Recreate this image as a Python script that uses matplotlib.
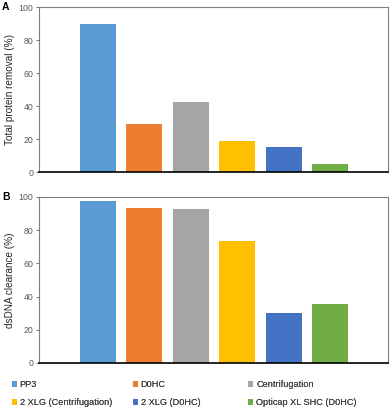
import matplotlib.pyplot as plt
import numpy as np

plt.rcParams['font.family'] = ['Liberation Sans', 'DejaVu Sans']

# data
categories = ['PP3', 'D0HC', 'Centrifugation', '2 XLG (Centrifugation)',
              '2 XLG (D0HC)', 'Opticap XL SHC (D0HC)']
protein_removal = [89.7, 28.9, 42.4, 18.8, 15.0, 4.8]
dsdna_clearance = [97.4, 93.2, 92.6, 73.3, 29.9, 35.4]
colors = ['#5B9BD5', '#ED7D31', '#A5A5A5', '#FFC000', '#4472C4', '#70AD47']
yticks = [0, 20, 40, 60, 80, 100]

fig = plt.figure(figsize=(3.91, 4.12), dpi=100)
axA = fig.add_axes([0.0997, 0.5825, 0.893, 0.4005])
axB = fig.add_axes([0.0997, 0.119, 0.893, 0.403])

x = np.arange(len(categories))
bars = None
for ax, vals, lab, letter in [(axA, protein_removal, 'Total protein removal (%)', 'A'),
                              (axB, dsdna_clearance, 'dsDNA clearance (%)', 'B')]:
    b = ax.bar(x, vals, width=0.78, color=colors)
    if bars is None:
        bars = b
    ax.set_xlim(-1.27, 6.25)
    ax.set_ylim(0, 100)
    ax.set_yticks(yticks)
    ax.set_xticks([])
    ax.tick_params(axis='y', labelsize=6.3, colors='#595959', length=2, width=0.6, pad=2)
    ax.set_ylabel(lab, fontsize=7.2, color='#262626', labelpad=3)
    for s in ['top', 'right', 'left']:
        ax.spines[s].set_color('#7f7f7f')
        ax.spines[s].set_linewidth(0.8)
    ax.spines['bottom'].set_color('black')
    ax.spines['bottom'].set_linewidth(1.2)
    pos = ax.get_position()
    fig.text(0.005, pos.y1, letter, fontsize=7.5, fontweight='bold', va='center')

# Legenda in drie kolommen met vaste breedte
cols = [(0, 3), (1, 4), (2, 5)]
xpos = [0.03, 0.34, 0.635]
for (i, j), xp in zip(cols, xpos):
    leg = fig.legend([bars[i], bars[j]], [categories[i], categories[j]],
                     loc='upper left', bbox_to_anchor=(xp, 0.077), frameon=False,
                     fontsize=6.6, handlelength=0.55, handleheight=0.55,
                     handletextpad=0.3, labelspacing=1.0, borderaxespad=0,
                     borderpad=0, labelcolor='#404040')
    fig.add_artist(leg)

fig.savefig('out.png', dpi=100)
